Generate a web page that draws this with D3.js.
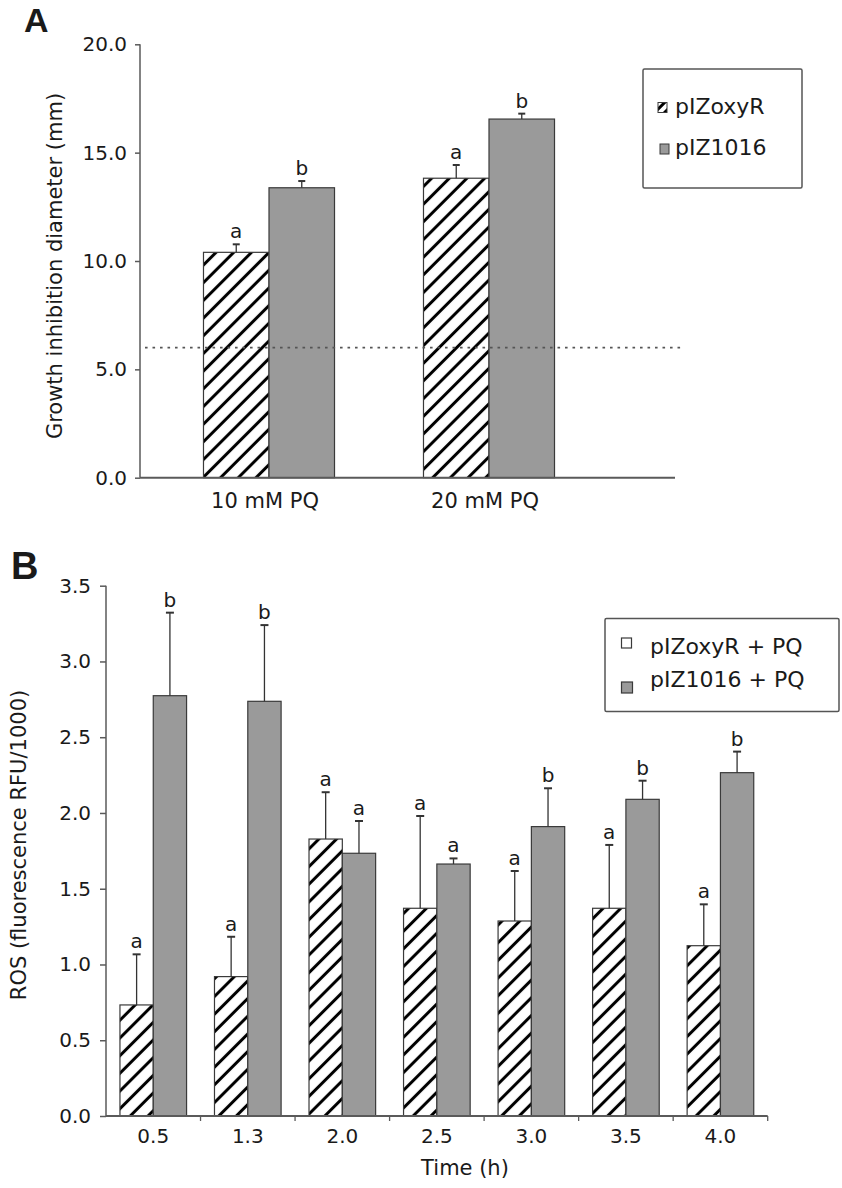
<!DOCTYPE html>
<html>
<head>
<meta charset="utf-8">
<script src="https://cdn.jsdelivr.net/npm/d3@7"></script>
<style>
  html, body { margin: 0; padding: 0; background: #fff; }
  svg text { font-family: "DejaVu Sans", sans-serif; fill: #1a1a1a; }
</style>
</head>
<body>
<svg id="chart" width="842" height="1188"></svg>
<script>
// ---------- Panel A data ----------
const categoriesA = ["10 mM PQ", "20 mM PQ"];
const seriesA = ["pIZoxyR", "pIZ1016"];
const valuesOxyA = [10.4, 13.82];
const errorsOxyA = [0.37, 0.61];
const values1016A = [13.38, 16.55];
const errors1016A = [0.31, 0.25];
const lettersOxyA = ["a", "a"];
const letters1016A = ["b", "b"];
const referenceLineA = 6.0;
const ticksA = [0, 5, 10, 15, 20];

// ---------- Panel B data ----------
const categoriesB = ["0.5", "1.3", "2.0", "2.5", "3.0", "3.5", "4.0"];
const seriesB = ["pIZoxyR + PQ", "pIZ1016 + PQ"];
const valuesOxyB = [0.733, 0.92, 1.828, 1.371, 1.287, 1.371, 1.124];
const errorsOxyB = [0.334, 0.263, 0.309, 0.609, 0.33, 0.418, 0.273];
const values1016B = [2.774, 2.737, 1.734, 1.663, 1.91, 2.09, 2.266];
const errors1016B = [0.548, 0.503, 0.213, 0.037, 0.253, 0.123, 0.139];
const lettersOxyB = ["a", "a", "a", "a", "a", "a", "a"];
const letters1016B = ["b", "b", "a", "a", "b", "b", "b"];
const ticksB = [0, 0.5, 1, 1.5, 2, 2.5, 3, 3.5];

const svg = d3.select("#chart");
const GRAY = "#9a9a9a";
const EDGE = "#3a3a3a";
const AXIS = "#5a5a5a";

// hatch pattern
const defs = svg.append("defs");
const hp = defs.append("pattern")
  .attr("id", "hatch").attr("patternUnits", "userSpaceOnUse")
  .attr("width", 12.5).attr("height", 12.5)
  .attr("patternTransform", "rotate(45)");
hp.append("rect").attr("width", 12.5).attr("height", 12.5).attr("fill", "#fff");
hp.append("line").attr("x1", 6.25).attr("x2", 6.25).attr("y1", 0).attr("y2", 12.5)
  .attr("stroke", "#000").attr("stroke-width", 3);

const hpS = defs.append("pattern")
  .attr("id", "hatchSmall").attr("patternUnits", "userSpaceOnUse")
  .attr("width", 7).attr("height", 7)
  .attr("patternTransform", "rotate(45)");
hpS.append("rect").attr("width", 7).attr("height", 7).attr("fill", "#fff");
hpS.append("line").attr("x1", 3.5).attr("x2", 3.5).attr("y1", 0).attr("y2", 7)
  .attr("stroke", "#000").attr("stroke-width", 3);

function drawPanel(cfg) {
  const g = svg.append("g");
  const x0 = d3.scaleBand().domain(cfg.categories).range(cfg.xRange).paddingInner(0).paddingOuter(0);
  const x1 = d3.scaleBand().domain(cfg.series).range([0, x0.bandwidth()])
    .paddingInner(0).paddingOuter(cfg.subPad);
  const y = d3.scaleLinear().domain(cfg.yDomain).range(cfg.yRange);

  const rows = [];
  cfg.categories.forEach((c, i) => {
    rows.push({ c, s: cfg.series[0], v: cfg.valsA[i], e: cfg.errsA[i], l: cfg.letA[i], fill: "url(#hatch)" });
    rows.push({ c, s: cfg.series[1], v: cfg.valsB[i], e: cfg.errsB[i], l: cfg.letB[i], fill: GRAY });
  });

  // reference line (drawn behind bars? it crosses bars in reference - draw on top)
  // bars
  g.selectAll("rect.bar").data(rows).join("rect")
    .attr("class", "bar")
    .attr("x", d => x0(d.c) + x1(d.s))
    .attr("y", d => y(d.v))
    .attr("width", x1.bandwidth())
    .attr("height", d => y(0) - y(d.v))
    .attr("fill", d => d.fill)
    .attr("stroke", EDGE).attr("stroke-width", 1.2);

  if (cfg.refLine !== undefined) {
    g.append("line")
      .attr("x1", cfg.refX[0]).attr("x2", cfg.refX[1])
      .attr("y1", y(cfg.refLine)).attr("y2", y(cfg.refLine))
      .attr("stroke", "#555").attr("stroke-width", 1.8)
      .attr("stroke-dasharray", "2.6,4.9");
  }

  // error bars
  const cx = d => x0(d.c) + x1(d.s) + x1.bandwidth() / 2;
  g.selectAll("line.err").data(rows).join("line")
    .attr("class", "err")
    .attr("x1", cx).attr("x2", cx)
    .attr("y1", d => y(d.v)).attr("y2", d => y(d.v + d.e))
    .attr("stroke", "#333").attr("stroke-width", 1.3);
  g.selectAll("line.cap").data(rows).join("line")
    .attr("class", "cap")
    .attr("x1", d => cx(d) - cfg.cap / 2).attr("x2", d => cx(d) + cfg.cap / 2)
    .attr("y1", d => y(d.v + d.e)).attr("y2", d => y(d.v + d.e))
    .attr("stroke", "#333").attr("stroke-width", 2);

  // letters
  g.selectAll("text.let").data(rows).join("text")
    .attr("class", "let")
    .attr("x", cx)
    .attr("y", d => y(d.v + d.e) - 6)
    .attr("text-anchor", "middle")
    .attr("font-size", 20)
    .text(d => d.l);

  // y axis
  const yAxis = g.append("g")
    .attr("transform", `translate(${cfg.xAxisStart},0)`)
    .call(d3.axisLeft(y).tickValues(cfg.ticks).tickFormat(d3.format(".1f"))
      .tickSize(cfg.yTick).tickPadding(cfg.yPad));
  yAxis.select(".domain").attr("stroke", AXIS).attr("stroke-width", 1.5)
    .attr("d", `M0,${y(0)}V${y(cfg.yDomain[1])}`);
  yAxis.selectAll(".tick line").attr("stroke", AXIS).attr("stroke-width", 1.5);
  yAxis.selectAll(".tick text").attr("font-size", 20)
    .attr("font-family", "DejaVu Sans").attr("fill", "#1a1a1a");

  // x axis
  const xAxis = g.append("g").attr("transform", `translate(0,${y(0)})`);
  xAxis.append("line")
    .attr("x1", cfg.xAxisStart).attr("x2", cfg.xAxisEnd)
    .attr("stroke", AXIS).attr("stroke-width", 2);
  if (cfg.xTicksBetween) {
    const bounds = cfg.categories.map(c => x0(c)).concat([x0.range()[1]]);
    xAxis.selectAll("line.xt").data(bounds.slice(1)).join("line")
      .attr("class", "xt")
      .attr("x1", d => d).attr("x2", d => d).attr("y1", 0).attr("y2", 5)
      .attr("stroke", AXIS).attr("stroke-width", 1.3);
  }
  xAxis.selectAll("text.xl").data(cfg.categories).join("text")
    .attr("class", "xl")
    .attr("x", c => x0(c) + x0.bandwidth() / 2 + (cfg.xLabelShift || 0))
    .attr("y", cfg.xLabelDy)
    .attr("text-anchor", "middle")
    .attr("font-size", cfg.xLabelSize)
    .text(c => c);

  return { x0, x1, y };
}

// ---------- Panel A ----------
drawPanel({
  categories: categoriesA, series: seriesA,
  valsA: valuesOxyA, errsA: errorsOxyA, letA: lettersOxyA,
  valsB: values1016A, errsB: errors1016A, letB: letters1016A,
  xRange: [159, 599], subPad: 0.679,
  yDomain: [0, 20], yRange: [477.7, 44.3], ticks: ticksA,
  xAxisStart: 140, xAxisEnd: 675,
  refLine: referenceLineA, refX: [145, 683],
  cap: 7, yTick: 5, yPad: 8,
  xTicksBetween: false, xLabelDy: 30, xLabelSize: 21, xLabelShift: -4
});

svg.append("text").attr("x", 24).attr("y", 32)
  .attr("font-family", "Liberation Sans, Arial, sans-serif").attr("font-weight", "bold")
  .attr("font-size", 34).style("font-family", "Liberation Sans, Arial, sans-serif").text("A");

svg.append("text")
  .attr("transform", "translate(62,266) rotate(-90)")
  .attr("text-anchor", "middle").attr("font-size", 21)
  .text("Growth inhibition diameter (mm)");

// legend A
const legA = svg.append("g");
legA.append("rect").attr("x", 643).attr("y", 69).attr("width", 159).attr("height", 119)
  .attr("fill", "#fff").attr("stroke", "#555").attr("stroke-width", 1.5).attr("rx", 1.5);
seriesA.forEach((s, i) => {
  const yy = [113.5, 155][i];
  legA.append("rect").attr("x", 658 + i * 2).attr("y", yy - 11).attr("width", 9).attr("height", 10)
    .attr("fill", i === 0 ? "url(#hatchSmall)" : GRAY).attr("stroke", EDGE).attr("stroke-width", 1);
  legA.append("text").attr("x", 675).attr("y", yy).attr("font-size", 22).text(s);
});

// ---------- Panel B ----------
drawPanel({
  categories: categoriesB, series: seriesB,
  valsA: valuesOxyB, errsA: errorsOxyB, letA: lettersOxyB,
  valsB: values1016B, errsB: errors1016B, letB: letters1016B,
  xRange: [106, 767.7], subPad: 0.419,
  yDomain: [0, 3.5], yRange: [1116, 585.7], ticks: ticksB,
  xAxisStart: 106, xAxisEnd: 767.7,
  cap: 8, yTick: 6, yPad: 9,
  xTicksBetween: true, xLabelDy: 27, xLabelSize: 20, xLabelShift: 0
});

svg.append("text").attr("x", 11).attr("y", 579)
  .attr("font-weight", "bold").attr("font-size", 38)
  .style("font-family", "Liberation Sans, Arial, sans-serif").text("B");

svg.append("text")
  .attr("transform", "translate(26,845) rotate(-90)")
  .attr("text-anchor", "middle").attr("font-size", 21)
  .text("ROS (fluorescence RFU/1000)");

svg.append("text").attr("x", 465).attr("y", 1175)
  .attr("text-anchor", "middle").attr("font-size", 21).text("Time (h)");

// legend B
const legB = svg.append("g");
legB.append("rect").attr("x", 605).attr("y", 618.5).attr("width", 234).attr("height", 93)
  .attr("fill", "#fff").attr("stroke", "#555").attr("stroke-width", 1.5).attr("rx", 1.5);
seriesB.forEach((s, i) => {
  const yy = [653.5, 687][i];
  legB.append("rect").attr("x", 621.5).attr("y", [638, 682][i]).attr("width", [10, 11][i]).attr("height", [10, 11][i])
    .attr("fill", i === 0 ? "#fff" : GRAY).attr("stroke", EDGE).attr("stroke-width", 1.2);
  legB.append("text").attr("x", 650).attr("y", yy).attr("font-size", 22).text(s);
});
</script>
</body>
</html>
